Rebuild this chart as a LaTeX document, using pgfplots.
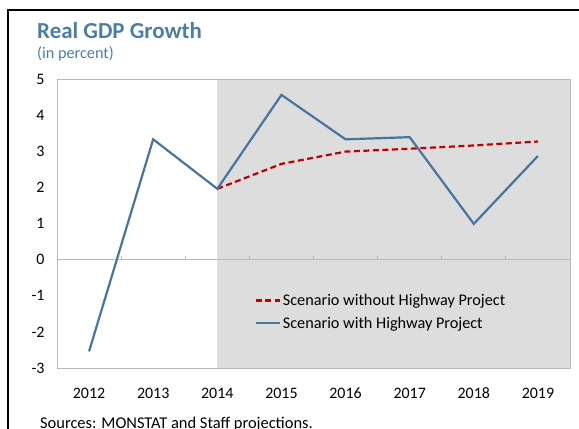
\documentclass[border=0pt]{standalone}
\usepackage{fontspec}
\setmainfont{Carlito}
\usepackage{pgfplots}
\pgfplotsset{compat=1.18}
\definecolor{titleblue}{RGB}{74,126,170}
\definecolor{lineblue}{RGB}{70,117,160}
\definecolor{dred}{RGB}{192,0,0}
\definecolor{shadegray}{RGB}{221,221,221}
\definecolor{framegray}{RGB}{185,185,185}
\begin{document}
\begin{tikzpicture}
\useasboundingbox (0bp,0bp) rectangle (579bp,429bp);
\draw[line width=2bp] (8bp,0bp) -- (8bp,419bp) -- (579bp,419bp);
\node[anchor=base west, text=titleblue, font=\fontsize{23}{26}\selectfont\bfseries, inner sep=0] at (37bp,390bp) {Real GDP Growth};
\node[anchor=base west, text=titleblue, font=\fontsize{16.3}{19}\selectfont, inner sep=0] at (37bp,370bp) {(in percent)};
\node[anchor=base west, font=\fontsize{16.5}{19}\selectfont, inner sep=0] at (40bp,1bp) {Sources: MONSTAT and Staff projections.};
\begin{axis}[
  at={(57bp,61bp)}, anchor=south west,
  width=513bp, height=289bp, scale only axis,
  xmin=-0.5, xmax=7.5, ymin=-3, ymax=5,
  xtick={0,1,2,3,4,5,6,7},
  xticklabels={2012,2013,2014,2015,2016,2017,2018,2019},
  ytick={-3,-2,-1,0,1,2,3,4,5},
  yticklabels={-3,-2,-1,0,1,2,3,4,5},
  major tick length=0pt,
  axis line style={framegray, line width=0.8bp},
  ticklabel style={font=\fontsize{16}{19}\selectfont},
  xticklabel style={anchor=base, yshift=-30bp},
  yticklabel style={anchor=east, xshift=-9bp},
  axis on top,
  legend cell align=left,
  legend style={at={(0.385,0.263)}, anchor=north west, draw=none, fill=none,
    font=\fontsize{16.3}{19}\selectfont, row sep=6bp, inner sep=0pt},
  legend image code/.code={\draw[#1] (0bp,0bp) -- (24bp,0bp);},
]
\fill[shadegray] (axis cs:2,-3) rectangle (axis cs:7.5,5);
\draw[framegray, line width=0.8bp] (axis cs:-0.5,0) -- (axis cs:7.5,0);
\pgfplotsinvokeforeach{0.5,1.5,2.5,3.5,4.5,5.5,6.5}{\draw[framegray, line width=0.8bp] (axis cs:#1,0) -- ([yshift=4bp]axis cs:#1,0);}
\addplot[dred, line width=2.2bp, dash pattern=on 6bp off 3.5bp] coordinates {
(2,1.96) (3,2.65) (4,2.99) (5,3.07) (6,3.16) (7,3.27)};
\addlegendentry{Scenario without Highway Project}
\addplot[lineblue, line width=2.2bp] coordinates {
(0,-2.54) (1,3.33) (2,1.96) (3,4.56) (4,3.33) (5,3.39) (6,0.99) (7,2.87)};
\addlegendentry{Scenario with Highway Project}
\end{axis}
\end{tikzpicture}
\end{document}
